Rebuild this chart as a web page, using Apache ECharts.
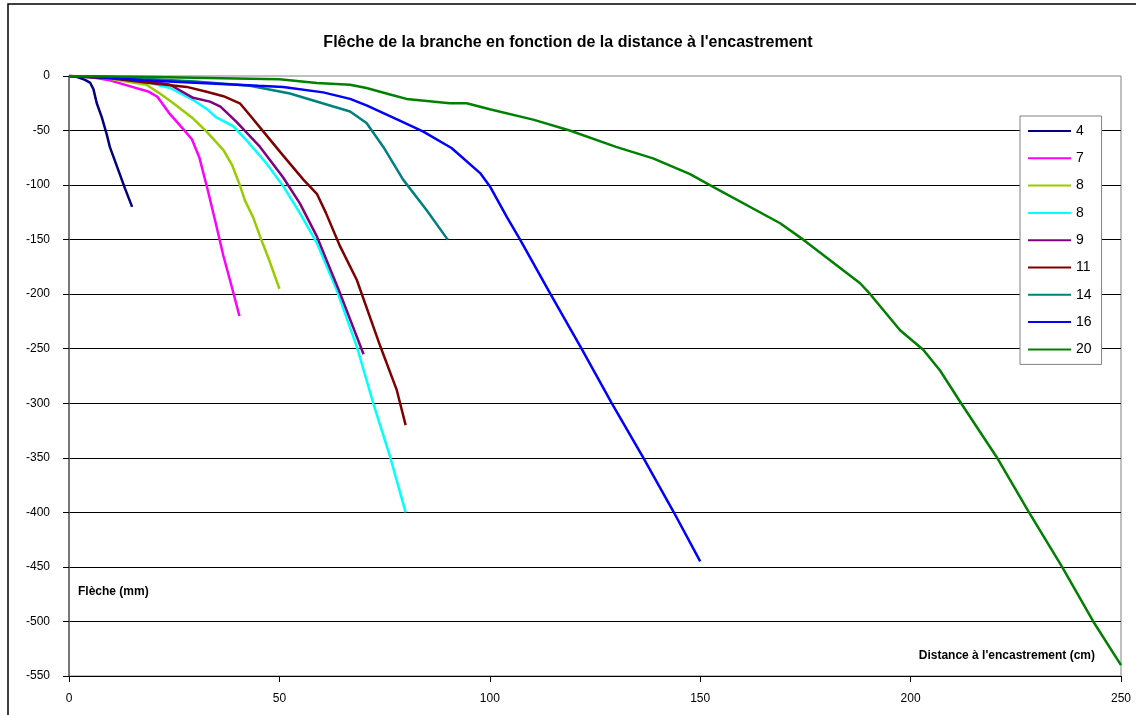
<!DOCTYPE html>
<html>
<head>
<meta charset="utf-8">
<script src="https://cdn.jsdelivr.net/npm/echarts@6/dist/echarts.min.js"></script>
<style>
  html, body { margin: 0; padding: 0; background: #fff; }
  #chart { width: 1136px; height: 715px; }
</style>
</head>
<body>
<div id="chart"></div>
<script>
  // diamètre de la branche (légende)
  const diameters = ['4', '7', '8', '8', '9', '11', '14', '16', '20']
  const colors = ['#000080', '#ff00ff', '#99cc00', '#00ffff', '#800080', '#800000', '#008080', '#0000ff', '#008000']

  // [distance (cm), flèche (mm)]
  const d4 = [[0, 0], [2, -1], [3.8, -3.5], [5, -6], [5.8, -12], [6.6, -25], [7.8, -38], [9, -54], [9.7, -65], [11.7, -86], [13.3, -103], [15, -120]]
  const d7 = [[0, 0], [5, -1], [9.7, -4], [15, -10], [19, -14.5], [21, -19], [24, -35], [27, -48], [29.2, -58], [31, -75], [33, -105], [35, -137], [36.7, -165], [38.6, -192], [40.5, -220]]
  const d8a = [[0, 0], [7, -1], [13.7, -5], [18.4, -8], [21.6, -16], [24.8, -25], [29.5, -39], [32.7, -51], [36.7, -68], [38.8, -82], [40.6, -100], [41.8, -114], [43.8, -130], [45.4, -147], [47.4, -167], [50, -195]]
  const d8b = [[0, 0], [10, -2], [18, -5], [24, -11], [29.5, -22], [33, -31], [35, -38], [39, -46], [42.2, -59], [46.9, -80], [50.9, -101], [54.9, -126], [58.9, -153], [63.6, -196], [68.4, -248], [72.3, -300], [76.3, -349], [80, -400]]
  const d9 = [[0, 0], [10, -2], [18, -4], [24, -8], [29.5, -20], [33.5, -23.5], [36, -28], [39.8, -42], [45.4, -65], [50.9, -93], [54.9, -117], [58.9, -147], [64.4, -199], [70, -255]]
  const d11 = [[0, 0], [10, -2], [19.2, -6.5], [28, -10], [32.7, -14.5], [36.7, -18.5], [40.6, -25], [43, -36], [46.2, -51], [50.9, -73], [55.7, -95], [58.9, -108], [61, -125], [64.4, -156], [68.4, -187], [74, -248], [77.9, -288], [80, -320]]
  const d14 = [[0, 0], [10, -1], [20, -3], [30, -5], [43, -9], [52.5, -16], [62.8, -28], [66.8, -32.5], [70.7, -43], [74.7, -65], [79.4, -95], [85, -123], [90, -150]]
  const d16 = [[0, 0], [10, -1.5], [17.6, -4], [35, -7], [45, -9], [50.9, -10], [60.4, -15], [66.8, -21], [70.7, -27], [78.6, -41], [84.2, -51], [90.9, -66], [97.7, -89], [100, -101], [104, -129], [107.2, -150], [114.3, -199], [121.8, -250], [129, -300], [136.5, -350], [143.6, -399], [150, -445]]
  const d20 = [[0, 0], [20, -1], [43, -2.5], [50, -3], [58.9, -6.5], [66.8, -8], [70.7, -11], [76.3, -17], [80.2, -21], [90.5, -25], [94.5, -25], [100, -30.5], [110.3, -40], [119, -50], [130, -65], [138.8, -75.5], [147.6, -90], [152.3, -100], [169, -135], [174.5, -150], [188, -190], [190.4, -200], [197.5, -233], [203, -251], [207, -270], [212, -300], [220.4, -349], [228, -399], [236, -450], [243.4, -500], [250, -540]]

  const curves = [d4, d7, d8a, d8b, d9, d11, d14, d16, d20]

  const font = 'Liberation Sans, Arial, sans-serif'
  const chart = echarts.init(document.getElementById('chart'))

  chart.setOption({
    animation: false,
    backgroundColor: '#fff',
    title: {
      text: 'Flêche de la branche en fonction de la distance à l\'encastrement',
      left: 'center',
      top: 30,
      textStyle: {
        fontFamily: font,
        fontSize: 16,
        fontWeight: 'bold',
        color: '#000'
      }
    },
    grid: {
      left: 69,
      right: 15,
      top: 76,
      bottom: 39,
      show: true,
      borderColor: '#808080',
      borderWidth: 1
    },
    legend: {
      orient: 'vertical',
      left: 1020,
      top: 116,
      padding: [8, 10, 8, 7],
      itemWidth: 43,
      itemHeight: 14,
      itemGap: 13.3,
      backgroundColor: '#fff',
      borderColor: '#808080',
      borderWidth: 1,
      // pas de marqueur, seulement le trait
      itemStyle: { opacity: 0 },
      lineStyle: { width: 2 },
      data: curves.map((c, i) => 's' + i),
      formatter: function (name) {
        return diameters[Number(name.slice(1))]
      },
      textStyle: {
        fontFamily: font,
        fontSize: 14,
        color: '#000'
      }
    },
    xAxis: {
      type: 'value',
      min: 0,
      max: 250,
      interval: 50,
      axisLine: { show: true, onZero: false, lineStyle: { color: '#000', width: 1 } },
      axisTick: { show: true, length: 6, lineStyle: { color: '#000' } },
      axisLabel: { margin: 17, color: '#000', fontFamily: font, fontSize: 12 },
      splitLine: { show: false }
    },
    yAxis: {
      type: 'value',
      min: -550,
      max: 0,
      interval: 50,
      axisLine: { show: true, lineStyle: { color: '#606060', width: 1.5 } },
      axisTick: { show: true, length: 6, lineStyle: { color: '#000' } },
      axisLabel: { margin: 19, color: '#000', fontFamily: font, fontSize: 12 },
      splitLine: { show: true, showMaxLine: false, lineStyle: { color: '#000', width: 1 } }
    },
    graphic: [
      // cadre extérieur
      {
        type: 'rect',
        silent: true,
        shape: { x: 8, y: 4, width: 1300, height: 900 },
        style: { fill: 'none', stroke: '#000', lineWidth: 1.5 }
      },
      {
        type: 'text',
        left: 78,
        top: 586,
        style: { text: 'Flèche (mm)', font: 'bold 12px ' + font, fill: '#000' }
      },
      {
        type: 'text',
        right: 1136 - 1095,
        top: 650,
        style: { text: 'Distance à l\'encastrement (cm)', font: 'bold 12px ' + font, fill: '#000' }
      }
    ],
    series: curves.map((c, i) => ({
      name: 's' + i,
      type: 'line',
      symbol: 'none',
      smooth: false,
      data: c,
      itemStyle: { color: colors[i] },
      lineStyle: { color: colors[i], width: 2.5 }
    }))
  })
</script>
</body>
</html>
